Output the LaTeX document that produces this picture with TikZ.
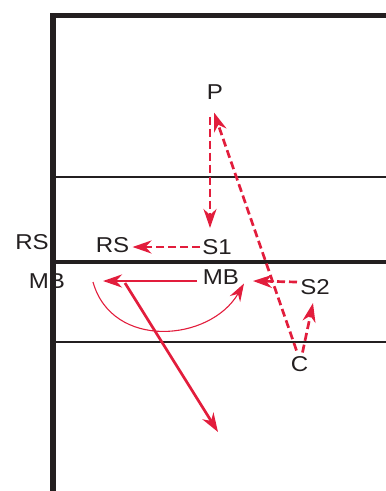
\documentclass[tikz,border=0pt]{standalone}
\usepackage{fontspec}
\setmainfont{Liberation Sans}[FakeStretch=1.12]
\usetikzlibrary{arrows.meta,calc}
\definecolor{ink}{RGB}{35,31,32}
\definecolor{arrred}{RGB}{226,29,60}
\tikzset{
  lbl/.style={inner sep=0pt,font=\fontsize{21.5}{25}\selectfont,text=ink},
  court/.style={draw=ink,line cap=rect},
  thickline/.style={court,line width=5.5pt},
  midline/.style={court,line width=4.2pt},
  thinline/.style={court,line width=1.8pt},
  tip/.style={-{Stealth[length=19pt,width=13pt,inset=6pt]}},
  dasharrow/.style={draw=arrred,line width=2.7pt,dash pattern=on 8pt off 4pt,tip},
  solidarrow/.style={draw=arrred,line width=2.7pt,tip},
  thinarrow/.style={draw=arrred,line width=1.1pt,-{Stealth[length=18pt,width=12pt,inset=6pt]}}
}
\begin{document}
\begin{tikzpicture}[x=1pt,y=-1pt]
\useasboundingbox (0,0) rectangle (386,491);
% labels
\node[lbl] (P) at (215,92.5) {P};
\node[lbl] (RSout) at (32,242) {RS};
\node[lbl] (MBout) at (47,281) {MB};
\node[lbl] (RS) at (112.5,245) {RS};
\node[lbl] (S1) at (217,247) {S1};
\node[lbl] (MB) at (221,277.5) {MB};
\node[lbl] (S2) at (315,287) {S2};
\node[lbl] (C) at (299.5,364.5) {C};
% court lines
\draw[thinline] (53,177) -- (386,177);
\draw[thinline] (53,342) -- (386,342);
\draw[midline] (53,262) -- (386,262);
\draw[thickline] (53,491) -- (53,15.5) -- (386,15.5);
% free ends
\coordinate (tipL) at (103,281);
\coordinate (hitA) at (125,283);
\coordinate (hitB) at (218,432);
\coordinate (arcA) at (93,282);
% arrows
\draw[dasharrow] ($(P)+(-5,24)$) -- ($(S1)+(-7,-19)$);
\draw[dasharrow] ($(C)+(-3,-14)$) -- ($(P)+(-1,20)$);
\draw[dasharrow] ($(S1)+(-17,0)$) -- ($(RS)+(20,2)$);
\draw[dasharrow] ($(S2)+(-18,-5)$) -- ($(MB)+(32,3.5)$);
\draw[dasharrow] ($(C)+(3,-12)$) -- ($(S2)+(-2,16)$);
\draw[solidarrow] ($(MB)+(-24,3.5)$) -- (tipL);
\draw[solidarrow] (hitA) -- (hitB);
\draw[thinarrow] (arcA) .. controls (112,350) and (210,342) .. ($(MB)+(23,6)$);
\end{tikzpicture}
\end{document}
